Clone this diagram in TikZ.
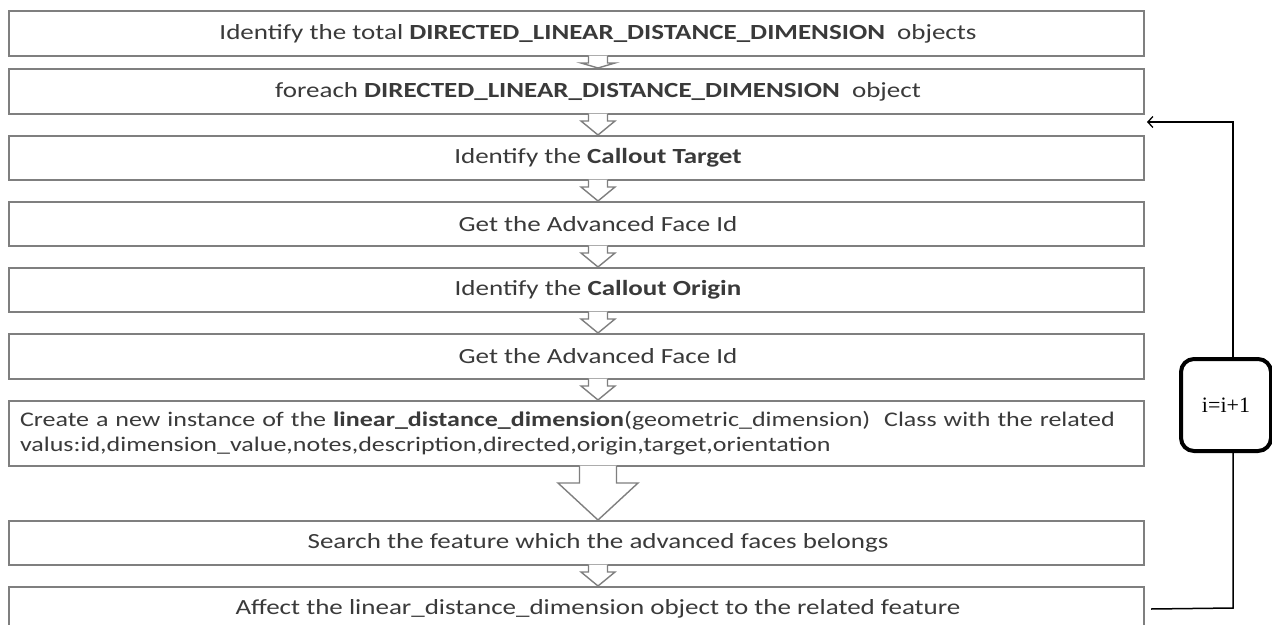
\documentclass[tikz,border=0pt]{standalone}
\usepackage{fontspec}
\setmainfont{Carlito}[FakeStretch=1.25]
\newfontfamily\incfont{Liberation Serif}
\usetikzlibrary{calc,arrows.meta}
\definecolor{boxgray}{HTML}{7F7F7F}
\definecolor{txtgray}{HTML}{3A3A3A}
\tikzset{
  stepbox/.style={draw=boxgray, line width=2pt, minimum width=1135pt, minimum height=44pt,
    inner sep=0pt, text=txtgray, font=\fontsize{20.8}{25}\selectfont, anchor=north west},
  steptext/.style={inner sep=0pt, text=txtgray, font=\fontsize{21.6}{25}\selectfont},
  blkarrow/.style={draw=boxgray, line width=1.4pt, line join=miter},
  loopline/.style={draw=black, line width=1.5pt},
  incbox/.style={draw=black, line width=4pt, rounded corners=13pt, minimum width=90pt,
    minimum height=92pt, inner sep=0pt, font=\incfont\fontsize{22}{24}\selectfont},
}
\newcommand\blk[5]{%
  \path (#1.south -| ax) coordinate (tt) (#2.north -| ax) coordinate (bb);
  \fill[white] ($(tt)+(-#3,-1.5)$) -- ($(tt)+(-#3,#5)$) -- ($(tt)+(-#4,#5)$) -- (bb)
     -- ($(tt)+(#4,#5)$) -- ($(tt)+(#3,#5)$) -- ($(tt)+(#3,-1.5)$) -- cycle;
  \draw[blkarrow] ($(tt)+(-#3,-1)$) -- ($(tt)+(-#3,#5)$) -- ($(tt)+(-#4,#5)$) -- (bb)
     -- ($(tt)+(#4,#5)$) -- ($(tt)+(#3,#5)$) -- ($(tt)+(#3,-1)$);
}
\begin{document}
\begin{tikzpicture}[x=1pt,y=-1pt]
\useasboundingbox[fill=white] (0,0) rectangle (1272,624);
\coordinate (ax) at (598,0);
\node[stepbox, minimum height=45pt] (b1) at (8,10) {};
\node[stepbox, minimum height=45pt] (b2) at (8,68) {};
\node[stepbox] (b3) at (8,135) {};
\node[stepbox] (b4) at (8,201) {};
\node[stepbox] (b5) at (8,267) {};
\node[stepbox, minimum height=45pt] (b6) at (8,333) {};
\node[stepbox, minimum height=65pt, text width=1113pt, inner xsep=11pt, align=left] (b7) at (8,400)
  {Create a new instance of the \textbf{linear\_distance\_dimension}(geometric\_dimension)~ Class with the related\\
   valus:id,dimension\_value,notes,description,directed,origin,target,orientation};
\node[stepbox] (b8) at (8,520) {};
\node[stepbox] (b9) at (8,586) {};
\node[steptext] (t1) at (b1.center -| ax) {Identify the total \textbf{DIRECTED\_LINEAR\_DISTANCE\_DIMENSION}~ objects};
\node[steptext] (t2) at (b2.center -| ax) {foreach \textbf{DIRECTED\_LINEAR\_DISTANCE\_DIMENSION}~ object};
\node[steptext] (t3) at (b3.center -| ax) {Identify the \textbf{Callout Target}};
\node[steptext] (t4) at (b4.center -| ax) {Get the Advanced Face Id};
\node[steptext] (t5) at (b5.center -| ax) {Identify the \textbf{Callout Origin}};
\node[steptext] (t6) at (b6.center -| ax) {Get the Advanced Face Id};
\node[steptext] (t8) at (b8.center -| ax) {Search the feature which the advanced faces belongs};
\node[steptext] (t9) at (b9.center -| ax) {Affect the linear\_distance\_dimension object to the related feature};
\blk{b1}{b2}{9.5}{17}{6}
\blk{b2}{b3}{9.5}{17}{6}
\blk{b3}{b4}{9.5}{17}{6}
\blk{b4}{b5}{9.5}{17}{6}
\blk{b5}{b6}{9.5}{17}{6}
\blk{b6}{b7}{9.5}{17}{6}
\blk{b7}{b8}{18.5}{40}{16}
\blk{b8}{b9}{9.5}{17}{6}
\node[incbox] (inc) at (1226,405) {i=i+1};
\coordinate (lr) at (1233,608);
\coordinate (lt) at (1233,122);
\coordinate (tip) at (1147,122);
\draw[loopline] ($(b9.east)+(6,0)$) -- (lr) -- (inc.south -| lr);
\draw[loopline, -{Straight Barb[length=5pt,width=11pt,line width=1.3pt]}] (inc.north -| lt) -- (lt) -- (tip);
\end{tikzpicture}
\end{document}
